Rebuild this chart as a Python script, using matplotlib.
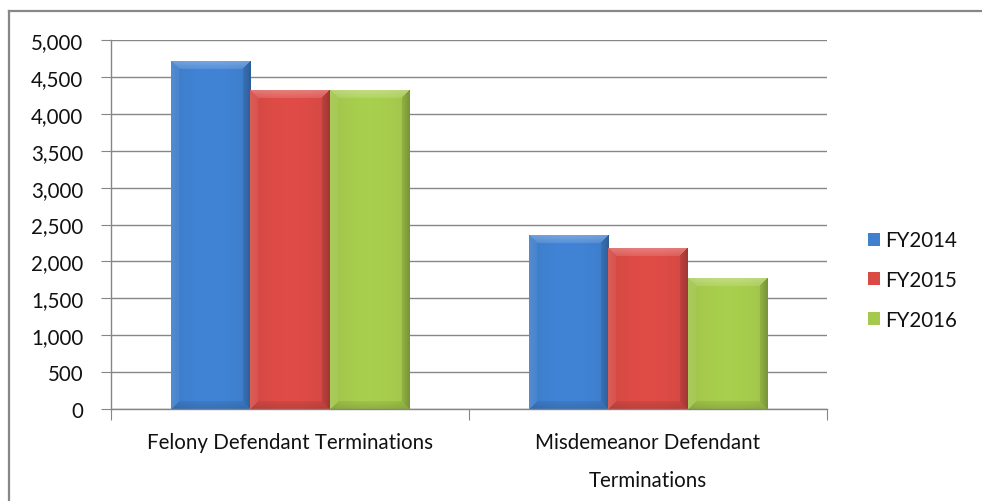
import numpy as np
import matplotlib
matplotlib.use("Agg")
import matplotlib.pyplot as plt
from matplotlib.colors import to_rgb
from matplotlib.lines import Line2D

categories = ["Felony Defendant Terminations", "Misdemeanor Defendant\nTerminations"]
years = ["FY2014", "FY2015", "FY2016"]
fy2014 = [4703, 2345]
fy2015 = [4311, 2178]
fy2016 = [4322, 1766]
colors = ["#3f80cf", "#d94a45", "#a4c94c"]

plt.rcParams["font.family"] = ["Lato", "DejaVu Sans"]
plt.rcParams["font.size"] = 14.8

fig = plt.figure(figsize=(9.82, 5.02), dpi=100)
ax = fig.add_axes([111 / 982, 1 - 410 / 502, (827 - 111) / 982, (410 - 41) / 502])

x = np.arange(len(categories))
w = 0.222
series = [fy2014, fy2015, fy2016]
bars = []
for i, (vals, lab, c) in enumerate(zip(series, years, colors)):
    b = ax.bar(x + (i - 1) * w, vals, w, color=c, label=lab, zorder=2)
    bars.append(b)

ax.set_xlim(-0.5, 1.5)
ax.set_ylim(0, 5000)

# excel-like bevel shading on each bar
px_per_x = (827 - 111) / 2.0
px_per_y = (410 - 41) / 5000.0
bev = 8
for b, c in zip(bars, colors):
    base = np.array(to_rgb(c))
    for p in b.patches:
        x0, wd, h = p.get_x(), p.get_width(), p.get_height()
        nx = int(round(wd * px_per_x))
        ny = max(int(round(h * px_per_y)), 2)
        jj, ii = np.meshgrid(np.arange(nx) + 0.5, np.arange(ny) + 0.5)
        d = np.stack([jj, nx - jj, ii, ny - ii])
        near = np.argmin(d, axis=0)
        dmin = np.min(d, axis=0)
        t = jj / nx
        shade = 0.97 + 0.06 * np.sin(np.pi * t)
        img = np.tile(base, (ny, nx, 1)) * shade[..., None]
        # strength fades toward the inner edge of the bevel
        k = np.clip(1 - dmin / bev, 0, 1) * 0.6 + 0.4
        k = np.where(dmin < bev, k, 0)
        white = np.ones(3)
        m = near == 2
        img[m] = img[m] * (1 - 0.28 * k[m, None]) + white * 0.28 * k[m, None]
        m = near == 0
        img[m] = img[m] * (1 - 0.12 * k[m, None]) + white * 0.12 * k[m, None]
        m = near == 1
        img[m] = img[m] * (1 - 0.25 * k[m, None])
        m = near == 3
        img[m] = img[m] * (1 - 0.15 * k[m, None])
        ax.imshow(np.clip(img, 0, 1), extent=(x0, x0 + wd, 0, h), origin="upper",
                  aspect="auto", zorder=3, interpolation="bilinear")

ax.set_xlim(-0.5, 1.5)
ax.set_ylim(0, 5000)

grid_c = "#868686"
ax.set_yticks(np.arange(0, 5001, 500))
ax.set_yticklabels([f"{v:,}" for v in range(0, 5001, 500)])
ax.yaxis.grid(True, color=grid_c, lw=1, zorder=0)
ax.set_axisbelow(True)
for s in ["top", "right"]:
    ax.spines[s].set_visible(False)
for s in ["left", "bottom"]:
    ax.spines[s].set_color(grid_c)
    ax.spines[s].set_linewidth(1)
    ax.spines[s].set_zorder(4)
ax.tick_params(axis="y", length=7, color=grid_c, pad=13, labelcolor="#111111")

ax.set_xticks([-0.5, 0.5, 1.5])
ax.set_xticklabels([])
ax.tick_params(axis="x", which="major", length=8, color=grid_c)
ax.set_xticks(x, minor=True)
ax.set_xticklabels(categories, minor=True, linespacing=2.12)
ax.tick_params(axis="x", which="minor", length=0, pad=16.5, labelcolor="#111111")

leg = fig.legend(handles=[b for b in bars], labels=years, loc="center left",
                 bbox_to_anchor=(868 / 982, 1 - 281 / 502), frameon=False,
                 borderpad=0, borderaxespad=0,
                 handlelength=0.6, handleheight=0.6, handletextpad=0.25,
                 labelspacing=0.95, fontsize=14.8)
for t in leg.get_texts():
    t.set_color("#111111")

# outer chart border (left and top visible)
fig.add_artist(Line2D([8.5 / 982, 8.5 / 982], [0, 1 - 12 / 502], transform=fig.transFigure,
                      color="#878787", lw=1.6))
fig.add_artist(Line2D([8.5 / 982, 1], [1 - 12 / 502, 1 - 12 / 502], transform=fig.transFigure,
                      color="#878787", lw=1.6))

fig.savefig("out.png", dpi=100)
